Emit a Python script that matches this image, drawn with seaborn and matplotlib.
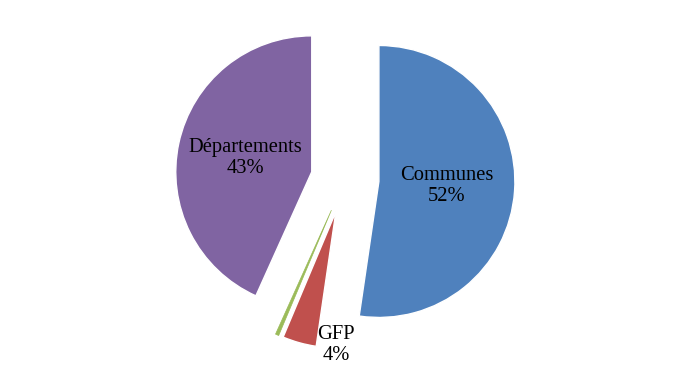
import numpy as np
import matplotlib
matplotlib.use("Agg")
import matplotlib.pyplot as plt
import seaborn as sns

# Data
categories = ["Communes", "GFP", "Autres", "Départements"]
values = [52.0, 4.0, 0.4, 43.0]
colors = ["#4F81BD", "#C0504D", "#9BBB59", "#8064A2"]

sns.set_style("white")
plt.rcParams["font.family"] = ["Liberation Serif", "DejaVu Serif"]

fig = plt.figure(figsize=(6.88, 3.81), dpi=100)
L = 1.35
ax = fig.add_axes([0.2346, 0.0483, 0.5337, 0.9638])

total = sum(values)
pcts = [v / total * 100 for v in values]

wedges, texts, autotexts = ax.pie(
    values, colors=colors, startangle=90, counterclock=False,
    explode=[0.25] * len(values), autopct="%1.0f%%", pctdistance=0.5,
    textprops={"fontsize": 14.8, "color": "black"},
)

for wedge, t, name, p in zip(wedges, autotexts, categories, pcts):
    if p < 1:
        # very thin slice: give it an outline so it stays visible
        t.set_text("")
        wedge.set_edgecolor(wedge.get_facecolor())
        wedge.set_linewidth(0.5)
        continue
    t.set_text(f"{name}\n{p:.0f}%")
    t.set_linespacing(1.15)
    if name == "GFP":
        # label sits just below the small slice
        cx, cy = wedge.center
        t.set_position((cx + 0.0, cy - 0.98))

ax.set_xlim(-L, L)
ax.set_ylim(-L, L)
ax.set_aspect("equal")
ax.axis("off")

fig.savefig("out.png", dpi=100)
